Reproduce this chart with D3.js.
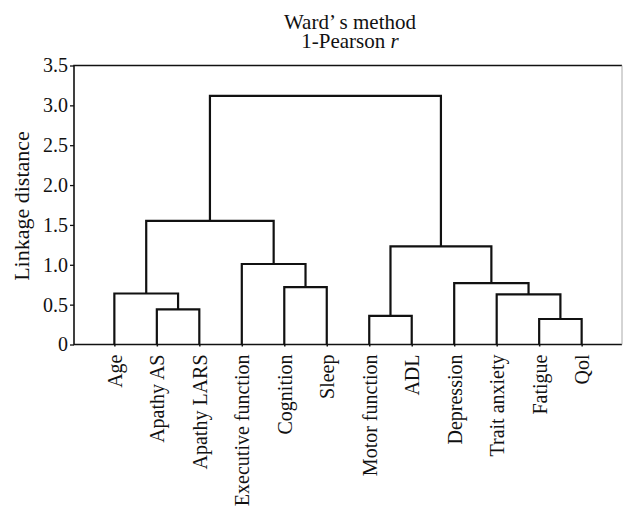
<!DOCTYPE html>
<html lang="en">
  <head>
    <meta charset="UTF-8" />
    <title>Ward's method dendrogram</title>
    <style>
      body { margin: 0; background: #fff; }
      text { font-family: "Liberation Serif", "Times New Roman", serif; fill: #111; }
    </style>
  </head>
  <body>
    <svg id="svg" width="623" height="516"></svg>

    <script src="https://d3js.org/d3.v7.min.js"></script>
    <script>
      const leaves = [
        "Age", "Apathy AS", "Apathy LARS", "Executive function", "Cognition", "Sleep",
        "Motor function", "ADL", "Depression", "Trait anxiety", "Fatigue", "Qol",
      ];
      // linkage rows: [left id, right id, height]; ids >= leaves.length are earlier rows
      const merges = [
        [1, 2, 0.44],
        [0, 12, 0.64],
        [4, 5, 0.72],
        [3, 14, 1.01],
        [13, 15, 1.55],
        [6, 7, 0.36],
        [10, 11, 0.32],
        [9, 18, 0.63],
        [8, 19, 0.77],
        [17, 20, 1.23],
        [16, 21, 3.12],
      ];
      const yTicks = [0, 0.5, 1.0, 1.5, 2.0, 2.5, 3.0, 3.5];

      const plot = { left: 74, top: 65.5, right: 622, bottom: 344.5 };
      const svg = d3.select("#svg");

      const xScale = d3.scalePoint().domain(leaves).range([plot.left, plot.right]).padding(0.95);
      const yScale = d3.scaleLinear().domain([0, 3.5]).range([plot.bottom, plot.top]);

      // node positions
      const nodes = leaves.map((name) => ({ x: xScale(name), h: 0 }));
      merges.forEach(([a, b, h]) => {
        nodes.push({ x: (nodes[a].x + nodes[b].x) / 2, h: h });
      });

      svg.append("g")
        .selectAll("path")
        .data(merges)
        .enter()
        .append("path")
        .attr("d", ([a, b, h]) => {
          const n1 = nodes[a], n2 = nodes[b];
          return `M${n1.x},${yScale(n1.h)}V${yScale(h)}H${n2.x}V${yScale(n2.h)}`;
        })
        .attr("fill", "none")
        .attr("stroke", "#111")
        .attr("stroke-width", 2.2);

      // y axis
      const yAxis = svg.append("g")
        .attr("transform", `translate(${plot.left},0)`)
        .call(d3.axisLeft(yScale).tickValues(yTicks).tickSize(4).tickPadding(2)
          .tickFormat((d) => (d === 0 ? "0" : d.toFixed(1))));
      yAxis.select(".domain").remove();
      yAxis.selectAll("line").attr("stroke", "#111").attr("stroke-width", 1.3);
      yAxis.selectAll("text").attr("font-size", 20).attr("font-family", null);

      // x axis
      const xAxis = svg.append("g")
        .attr("transform", `translate(0,${plot.bottom})`)
        .call(d3.axisBottom(xScale).tickSize(2).tickPadding(0));
      xAxis.select(".domain").remove();
      xAxis.selectAll("line").attr("stroke", "#111").attr("stroke-width", 1.5);
      xAxis.selectAll("text")
        .attr("font-size", 20)
        .attr("font-family", null)
        .attr("transform", "rotate(-90)")
        .attr("text-anchor", "end")
        .attr("x", -10)
        .attr("y", 0)
        .attr("dy", "0.35em");

      // frame
      svg.append("path")
        .attr("d", `M${plot.right},${plot.top}H${plot.left}V${plot.bottom}H${plot.right}`)
        .attr("fill", "none")
        .attr("stroke", "#111")
        .attr("stroke-width", 1.6);
      svg.append("line")
        .attr("x1", plot.right).attr("x2", plot.right)
        .attr("y1", plot.top).attr("y2", plot.bottom)
        .attr("stroke", "#aaa")
        .attr("stroke-width", 1);

      // titles
      const cx = (plot.left + plot.right) / 2 + 2;
      svg.append("text")
        .attr("x", cx).attr("y", 28.5)
        .attr("text-anchor", "middle")
        .attr("font-size", 21)
        .text("Ward’ s method");
      const t2 = svg.append("text")
        .attr("x", cx).attr("y", 47.5)
        .attr("text-anchor", "middle")
        .attr("font-size", 21);
      t2.append("tspan").text("1-Pearson ");
      t2.append("tspan").attr("font-style", "italic").text("r");

      svg.append("text")
        .attr("transform", `translate(29,${(plot.top + plot.bottom) / 2 + 1}) rotate(-90)`)
        .attr("text-anchor", "middle")
        .attr("font-size", 22)
        .text("Linkage distance");
    </script>
  </body>
</html>
